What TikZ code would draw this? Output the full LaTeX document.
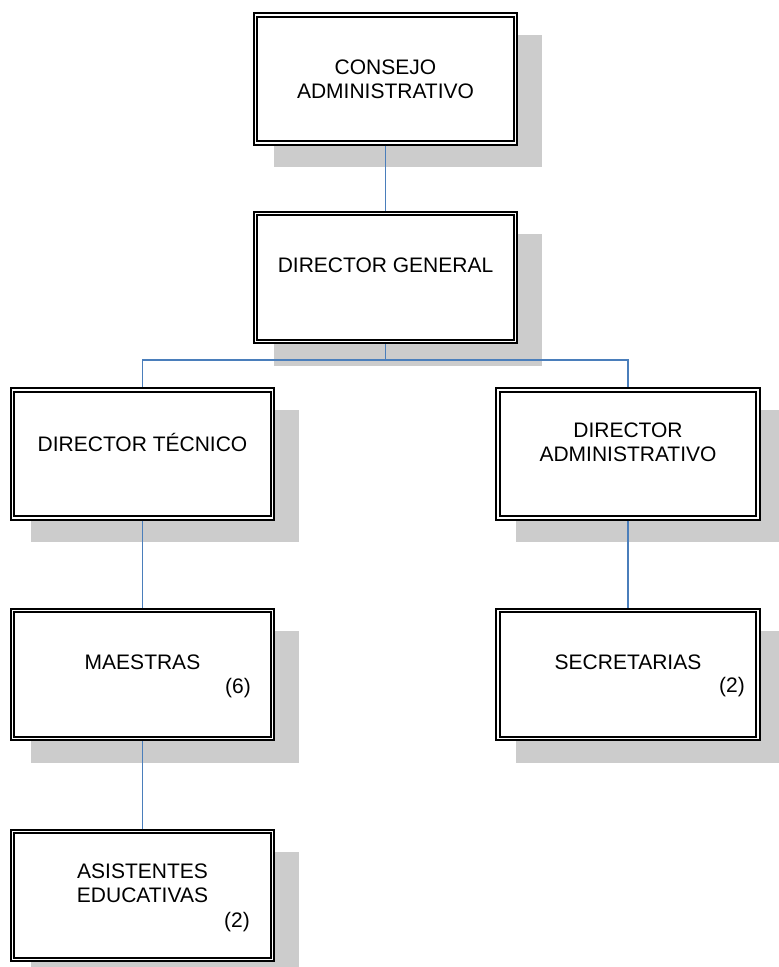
\documentclass[tikz,border=0pt]{standalone}
\usepackage{fontspec}
\setmainfont{Liberation Sans}
\usetikzlibrary{shadows}

\definecolor{linkblue}{RGB}{74,126,187}
\definecolor{shadowgray}{RGB}{204,204,204}

\tikzset{
  orgbox/.style={draw, fill=white, line width=1.7pt, double, double distance=1.8pt,
    minimum width=260pt, minimum height=128pt, inner sep=0pt, outer sep=2.6pt,
    align=center, font=\fontsize{21pt}{24pt}\selectfont,
    general shadow={fill=shadowgray, shadow xshift=21.5pt, shadow yshift=-21.5pt, shadow scale=1.03}},
  headcount/.style={font=\fontsize{21pt}{24pt}\selectfont, inner sep=0pt},
  link/.style={linkblue, line width=1.7pt},
}

\begin{document}
\begin{tikzpicture}[x=1pt, y=-1pt]
  \useasboundingbox (0,0) rectangle (779,967);

  % Top of the chart
  \node[orgbox] (consejo) at (385.5,79) {CONSEJO\\ADMINISTRATIVO};
  \node[orgbox] (general) at (385.5,277.5) {DIRECTOR GENERAL\\~};

  % Second level
  \node[orgbox] (tecnico) at (142.5,454) {DIRECTOR TÉCNICO\\~};
  \node[orgbox] (administrativo) at (628,454) {DIRECTOR\\ADMINISTRATIVO\\~};

  % Staff
  \node[orgbox] (maestras) at (142.5,674.5) {MAESTRAS\\~};
  \node[orgbox] (secretarias) at (628,674.5) {SECRETARIAS\\~};
  \node[orgbox] (asistentes) at (142.5,895.5) {ASISTENTES\\EDUCATIVAS\\~};

  % Head counts
  \node[headcount] (maestras-n) at (238,688) {(6)};
  \node[headcount] (secretarias-n) at (732,687) {(2)};
  \node[headcount] (asistentes-n) at (237,922) {(2)};

  % Connectors
  \coordinate (split) at (385.5,360);
  \draw[link] (consejo) -- (general);
  \draw[link] (general.south) -- (split) -| (tecnico.north);
  \draw[link] (split) -| (administrativo.north);
  \draw[link] (tecnico) -- (maestras);
  \draw[link] (maestras) -- (asistentes);
  \draw[link] (administrativo) -- (secretarias);
\end{tikzpicture}
\end{document}
